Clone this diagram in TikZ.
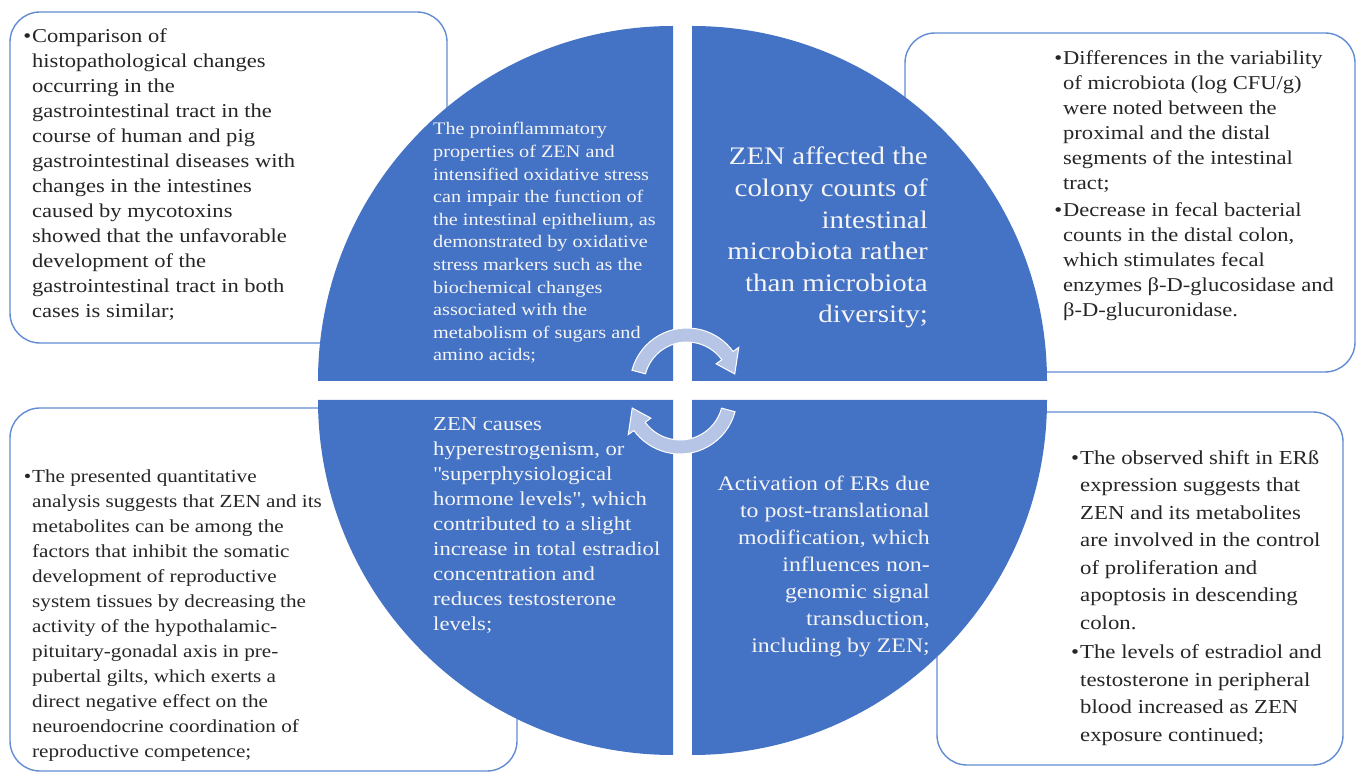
\documentclass[tikz,border=0pt]{standalone}
\usepackage{fontspec}
\setmainfont{Liberation Serif}[FakeStretch=1.15]
\usepackage{tikz}

\definecolor{pieblue}{RGB}{68,114,196}
\definecolor{boxblue}{RGB}{98,140,210}
\definecolor{cycfill}{RGB}{182,196,230}

\begin{document}
\begin{tikzpicture}[x=1pt, y=1pt,
	framebox/.style={draw=boxblue, line width=1.4pt, rounded corners=30pt, fill=white},
	piece/.style={fill=pieblue},
	cycarrow/.style={fill=cycfill, draw=white, line width=1pt},
	boxtext/.style={inner sep=0pt, anchor=base west, align=left, text=black!85},
	pietext/.style={inner sep=0pt, text=white!96!black}]
	\useasboundingbox (0,0) rectangle (1357,774);
	
	% frames behind the circle
	\draw[framebox] (10,431) rectangle (447,762);
	\draw[framebox] (905,402) rectangle (1355,741);
	\draw[framebox] (10,3) rectangle (517,366);
	\draw[framebox] (937,9) rectangle (1343,362);
	
	% the four quarters
	\coordinate (tlc) at (673,393);
	\coordinate (trc) at (692,393);
	\coordinate (blc) at (673,374);
	\coordinate (brc) at (692,374);
	
	\fill[piece] (tlc) -- ++(-355,0) arc[start angle=180, end angle=90, radius=355] -- cycle;
	\fill[piece] (trc) -- ++(0,355) arc[start angle=90, end angle=0, radius=355] -- cycle;
	\fill[piece] (blc) -- ++(0,-355) arc[start angle=270, end angle=180, radius=355] -- cycle;
	\fill[piece] (brc) -- ++(355,0) arc[start angle=0, end angle=-90, radius=355] -- cycle;
	
	% cycle arrows
	\coordinate (cyctop) at (687,389);
	\coordinate (cycbot) at (680,377);
	
	\filldraw[cycarrow] ([shift={(165:57)}]cyctop) arc[start angle=165, end angle=36, radius=57]
		-- ([shift={(36:64)}]cyctop) -- ([shift={(13:49)}]cyctop) -- ([shift={(36:36)}]cyctop)
		-- ([shift={(36:43)}]cyctop) arc[start angle=36, end angle=165, radius=43] -- cycle;
	\filldraw[cycarrow] ([shift={(-15:57)}]cycbot) arc[start angle=-15, end angle=-144, radius=57]
		-- ([shift={(-144:64)}]cycbot) -- ([shift={(-167:49)}]cycbot) -- ([shift={(-144:36)}]cycbot)
		-- ([shift={(-144:43)}]cycbot) arc[start angle=-144, end angle=-15, radius=43] -- cycle;
	
	% texts in the quarters (anchored at the last baseline)
	\node[pietext, anchor=base west, align=left, font=\fontsize{17.6}{22.6}\selectfont] (gutpie) at (433,413)
		{The proinflammatory\\properties of ZEN and\\intensified oxidative stress\\can impair the function of\\the intestinal epithelium, as\\demonstrated by oxidative\\stress markers such as the\\biochemical changes\\associated with the\\metabolism of sugars and\\amino acids;};
	\node[pietext, anchor=base east, align=right, font=\fontsize{25.2}{31.6}\selectfont] (micropie) at (928,451)
		{ZEN affected the\\colony counts of\\intestinal\\microbiota rather\\than microbiota\\diversity;};
	\node[pietext, anchor=base west, align=left, font=\fontsize{19.7}{25}\selectfont] (hormpie) at (433,144)
		{ZEN causes\\hyperestrogenism, or\\\textquotedbl superphysiological\\hormone levels\textquotedbl, which\\contributed to a slight\\increase in total estradiol\\concentration and\\reduces testosterone\\levels;};
	\node[pietext, anchor=base east, align=right, font=\fontsize{20.7}{27}\selectfont] (erpie) at (930,122)
		{Activation of ERs due\\to post-translational\\modification, which\\influences non-\\genomic signal\\transduction,\\including by ZEN;};
	
	% texts in the frames
	\node[boxtext, font=\fontsize{19.6}{25}\selectfont] (histotext) at (32,456)
		{\llap{•\hspace{1pt}}Comparison of\\histopathological changes\\occurring in the\\gastrointestinal tract in the\\course of human and pig\\gastrointestinal diseases with\\changes in the intestines\\caused by mycotoxins\\showed that the unfavorable\\development of the\\gastrointestinal tract in both\\cases is similar;};
	\node[boxtext, font=\fontsize{19.6}{25}\selectfont] (microtext) at (1063,457)
		{\llap{•\hspace{1pt}}Differences in the variability\\of microbiota (log CFU/g)\\were noted between the\\proximal and the distal\\segments of the intestinal\\tract;\\[2pt]
		\llap{•\hspace{1pt}}Decrease in fecal bacterial\\counts in the distal colon,\\which stimulates fecal\\enzymes β-D-glucosidase and\\β-D-glucuronidase.};
	\node[boxtext, font=\fontsize{18.4}{25}\selectfont] (axistext) at (32,17)
		{\llap{•\hspace{1pt}}The presented quantitative\\analysis suggests that ZEN and its\\metabolites can be among the\\factors that inhibit the somatic\\development of reproductive\\system tissues by decreasing the\\activity of the hypothalamic-\\pituitary-gonadal axis in pre-\\pubertal gilts, which exerts a\\direct negative effect on the\\neuroendocrine coordination of\\reproductive competence;};
	\node[boxtext, font=\fontsize{19.8}{27.5}\selectfont] (ertext) at (1080,33)
		{\llap{•\hspace{1pt}}The observed shift in ERß\\expression suggests that\\ZEN and its metabolites\\are involved in the control\\of proliferation and\\apoptosis in descending\\colon.\\[2pt]
		\llap{•\hspace{1pt}}The levels of estradiol and\\testosterone in peripheral\\blood increased as ZEN\\exposure continued;};
\end{tikzpicture}
\end{document}
